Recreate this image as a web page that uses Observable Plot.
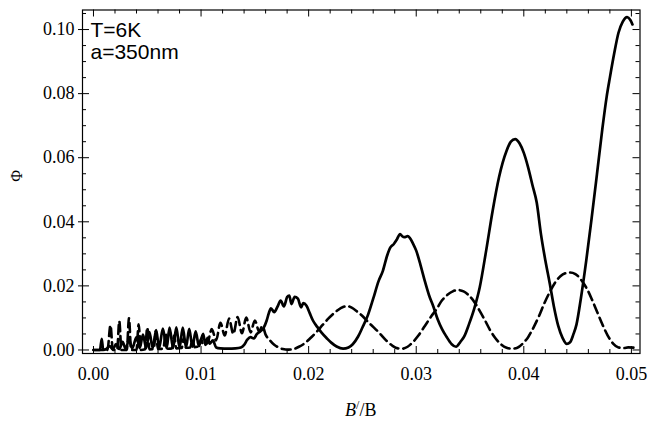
<!DOCTYPE html>
<html>
<head>
<meta charset="utf-8">
<script src="https://cdn.jsdelivr.net/npm/d3@7"></script>
<script src="https://cdn.jsdelivr.net/npm/@observablehq/plot@0.6"></script>
<style>
  html, body { margin: 0; padding: 0; background: #fff; }
  #chart { width: 648px; height: 424px; }
  svg { display: block; }
</style>
</head>
<body>
<div id="chart"></div>
<script>
// ---- data (x = B'/B, y = Φ) ----
const solidCurve = [
  [0.0000,0],[0.0006,0],[0.00077,0.0035],[0.0009,0],[0.0012,0.0003],[0.0015,0.0012],[0.0018,0.0002],
  [0.0021,0.0018],[0.0024,0.0003],[0.0027,0.0025],[0.0030,0.0004],[0.0033,0.0032],[0.0036,0.0005],
  [0.0040,0.0040],[0.0043,0.0006],[0.0046,0.0048],[0.0049,0.0006],[0.0052,0.0056],[0.0055,0.0006],
  [0.00583,0.0062],[0.0061,0.0006],[0.00645,0.0067],[0.0068,0.0006],[0.00707,0.0070],[0.0074,0.0006],
  [0.0077,0.0071],[0.0080,0.0007],[0.0083,0.0070],[0.0086,0.0008],[0.0089,0.0066],[0.0092,0.0010],
  [0.0095,0.0058],[0.0098,0.0012],[0.0102,0.0050],[0.0104,0.0016],[0.0106,0.0038],[0.0108,0.0020],
  [0.0111,0.0030],[0.0114,0.0008],[0.0118,0.0005],[0.0125,0.0004],[0.0132,0.0005],[0.0137,0.0008],
  [0.0140,0.0016],[0.0143,0.0032],[0.0146,0.0040],[0.0149,0.0036],[0.0152,0.0050],[0.0155,0.0058],
  [0.0158,0.0068],[0.0161,0.0092],[0.0163,0.0115],[0.0165,0.0130],[0.0168,0.0118],[0.0171,0.0135],
  [0.0174,0.0154],[0.0177,0.0136],[0.0180,0.0165],[0.0182,0.0170],[0.0184,0.0143],[0.0187,0.0166],
  [0.0190,0.0160],[0.0193,0.0133],[0.0195,0.0146],[0.0198,0.0138],[0.0201,0.0115],[0.0204,0.0092],
  [0.0208,0.0072],[0.0212,0.0054],[0.0217,0.0036],[0.0221,0.0023],[0.0226,0.0011],[0.0232,0.0004],
  [0.0237,0.0008],[0.0241,0.0018],[0.0246,0.0042],[0.0250,0.0070],[0.0255,0.0108],[0.0260,0.0160],
  [0.0265,0.0215],[0.0269,0.0247],[0.0273,0.0295],[0.0276,0.0320],[0.0279,0.0330],[0.0282,0.0345],
  [0.0285,0.0362],[0.0287,0.0355],[0.0289,0.0352],[0.0292,0.0355],[0.0294,0.0350],[0.0297,0.0332],
  [0.0300,0.0310],[0.0304,0.0265],[0.0308,0.0215],[0.0312,0.0170],[0.0316,0.0135],[0.0320,0.0095],
  [0.0324,0.0065],[0.0328,0.0042],[0.0333,0.0018],[0.0337,0.0010],[0.0341,0.0025],[0.0345,0.0045],
  [0.0349,0.0080],[0.0354,0.0130],[0.0359,0.0195],[0.0365,0.0310],[0.0371,0.0434],[0.0377,0.0540],
  [0.0384,0.0622],[0.0388,0.0650],[0.0392,0.0658],[0.0396,0.0645],[0.0400,0.0615],[0.0404,0.0570],
  [0.0408,0.0515],[0.0412,0.0460],[0.0416,0.0360],[0.0420,0.0280],[0.0424,0.0210],[0.0428,0.0135],
  [0.0432,0.0075],[0.0436,0.0038],[0.0440,0.0019],[0.0443,0.0024],[0.0446,0.0048],[0.0449,0.0080],
  [0.0453,0.0160],[0.0458,0.0278],[0.0463,0.0410],[0.0468,0.0549],[0.0473,0.0690],[0.0477,0.0790],
  [0.0480,0.0850],[0.0484,0.0925],[0.0488,0.0990],[0.0492,0.1025],[0.0496,0.1039],[0.0499,0.1030],
  [0.0501,0.1016]
];

const dashedCurve = [
  [0.0000,0],[0.0013,0],[0.00158,0.0077],[0.0018,0],[0.0022,0],[0.0024,0.0090],[0.0026,0],
  [0.0031,0],[0.0033,0.0099],[0.0035,0],[0.0040,0],[0.0042,0.0080],[0.0044,0],[0.0048,0.0002],
  [0.0050,0.0070],[0.0052,0.0002],[0.0056,0.0003],[0.0058,0.0060],[0.0060,0.0003],[0.0065,0.0004],
  [0.0067,0.0052],[0.0069,0.0004],[0.0073,0.0005],[0.0075,0.0045],[0.0077,0.0005],[0.0082,0.0006],
  [0.0084,0.0038],[0.0086,0.0007],[0.0090,0.0008],[0.0092,0.0032],[0.0094,0.0009],[0.0098,0.0012],
  [0.0100,0.0035],[0.0102,0.0015],[0.0106,0.0022],[0.0110,0.0065],[0.0114,0.0030],[0.0118,0.0085],
  [0.0122,0.0045],[0.0126,0.0098],[0.0130,0.0050],[0.0134,0.0103],[0.0138,0.0052],[0.0142,0.0101],
  [0.0146,0.0055],[0.0150,0.0092],[0.0154,0.0058],[0.0157,0.0075],[0.0160,0.0048],[0.0164,0.0030],
  [0.0168,0.0016],[0.0172,0.0008],[0.0176,0.0003],[0.0181,0.0001],[0.0186,0.0003],[0.0191,0.0010],
  [0.0196,0.0020],[0.0201,0.0035],[0.0207,0.0055],[0.0213,0.0078],[0.0218,0.0097],[0.0222,0.0110],
  [0.0227,0.0124],[0.0232,0.0134],[0.0236,0.0137],[0.0240,0.0132],[0.0245,0.0120],[0.0250,0.0106],
  [0.0255,0.0088],[0.0260,0.0072],[0.0266,0.0052],[0.0272,0.0030],[0.0278,0.0013],[0.0283,0.0005],
  [0.0287,0.0004],[0.0292,0.0010],[0.0297,0.0025],[0.0302,0.0045],[0.0308,0.0075],[0.0314,0.0105],
  [0.0319,0.0128],[0.0324,0.0155],[0.0329,0.0172],[0.0334,0.0183],[0.0339,0.0187],[0.0344,0.0183],
  [0.0349,0.0170],[0.0354,0.0150],[0.0359,0.0122],[0.0364,0.0092],[0.0369,0.0060],[0.0374,0.0035],
  [0.0379,0.0017],[0.0384,0.0007],[0.0389,0.0004],[0.0394,0.0007],[0.0399,0.0020],[0.0404,0.0040],
  [0.0409,0.0070],[0.0414,0.0105],[0.0419,0.0145],[0.0424,0.0180],[0.0429,0.0210],[0.0434,0.0230],
  [0.0439,0.0240],[0.0443,0.0242],[0.0448,0.0237],[0.0453,0.0220],[0.0458,0.0195],[0.0463,0.0160],
  [0.0468,0.0120],[0.0473,0.0080],[0.0478,0.0045],[0.0483,0.0020],[0.0488,0.0008],[0.0493,0.0006],
  [0.0497,0.0008],[0.0503,0.0007]
];

const xMajorTicks = [0, 0.01, 0.02, 0.03, 0.04, 0.05];
const yMajorTicks = [0, 0.02, 0.04, 0.06, 0.08, 0.10];
const xMinorTicks = d3.range(0, 0.0501, 0.002).filter(v => !xMajorTicks.some(m => Math.abs(m - v) < 1e-9));
const yMinorTicks = d3.range(0, 0.1051, 0.005).filter(v => !yMajorTicks.some(m => Math.abs(m - v) < 1e-9));
const annotationLines = ["T=6K", "a=350nm"];
const yLabel = "Φ";

// ---- layout ----
const W = 648, H = 424;
const mL = 82, mR = 8.5, mT = 9.5, mB = 71;
const innerW = W - mL - mR, innerH = H - mT - mB;
const majLen = 7, minLen = 4;
const serif = "'Liberation Serif', 'DejaVu Serif', serif";

const plot = Plot.plot({
  width: W, height: H,
  marginLeft: mL, marginRight: mR, marginTop: mT, marginBottom: mB,
  style: { background: "#fff", color: "#000", fontFamily: serif },
  x: { domain: [-0.00102, 0.0508] },
  y: { domain: [-0.0011, 0.1061] },
  marks: [
    // inward ticks on all four sides
    Plot.ruleX(xMajorTicks, { insetTop: innerH - majLen, stroke: "#000", strokeWidth: 1 }),
    Plot.ruleX(xMajorTicks, { insetBottom: innerH - majLen, stroke: "#000", strokeWidth: 1 }),
    Plot.ruleX(xMinorTicks, { insetTop: innerH - minLen, stroke: "#000", strokeWidth: 1 }),
    Plot.ruleX(xMinorTicks, { insetBottom: innerH - minLen, stroke: "#000", strokeWidth: 1 }),
    Plot.ruleY(yMajorTicks, { insetRight: innerW - majLen, insetLeft: -4, stroke: "#000", strokeWidth: 1 }),
    Plot.ruleY(yMajorTicks, { insetLeft: innerW - majLen, stroke: "#000", strokeWidth: 1 }),
    Plot.ruleY(yMinorTicks, { insetRight: innerW - minLen, stroke: "#000", strokeWidth: 1 }),
    Plot.ruleY(yMinorTicks, { insetLeft: innerW - minLen, stroke: "#000", strokeWidth: 1 }),
    Plot.axisX({ ticks: xMajorTicks, tickSize: 0, tickPadding: 14, tickFormat: d3.format(".2f"),
                 fontSize: 18, fontFamily: serif, label: null }),
    Plot.axisY({ ticks: yMajorTicks, tickSize: 0, tickPadding: 8, tickFormat: d3.format(".2f"),
                 fontSize: 18, fontFamily: serif, label: null }),
    Plot.line(dashedCurve, { x: d => d[0], y: d => d[1], stroke: "#000", strokeWidth: 2.6,
                             strokeDasharray: "9,5", curve: "monotone-x" }),
    Plot.line(solidCurve, { x: d => d[0], y: d => d[1], stroke: "#000", strokeWidth: 2.7,
                            curve: "monotone-x" }),
    Plot.frame({ stroke: "#000", strokeWidth: 1.2 }),
    Plot.text([annotationLines.join("\n")], {
      frameAnchor: "top-left", textAnchor: "start", lineAnchor: "top",
      dx: 8, dy: 11.5, lineHeight: 1.05, fontSize: 21,
      fontFamily: "'Liberation Sans', Arial, Helvetica, sans-serif", fill: "#000"
    }),
    Plot.text([yLabel], {
      frameAnchor: "left", dx: -66, rotate: -90, fontSize: 16, fontFamily: serif, fill: "#000"
    })
  ]
});

// x-axis label with italic B and superscript slash
const svg = d3.select(plot);
const lbl = svg.append("text")
  .attr("x", mL + innerW / 2)
  .attr("y", 416)
  .attr("text-anchor", "middle")
  .attr("font-family", serif)
  .attr("font-size", 18)
  .attr("fill", "#000");
lbl.append("tspan").attr("font-style", "italic").text("B");
lbl.append("tspan").attr("font-size", 12).attr("dy", -7).text("/");
lbl.append("tspan").attr("dy", 7).text("/B");

document.getElementById("chart").appendChild(plot);
</script>
</body>
</html>
